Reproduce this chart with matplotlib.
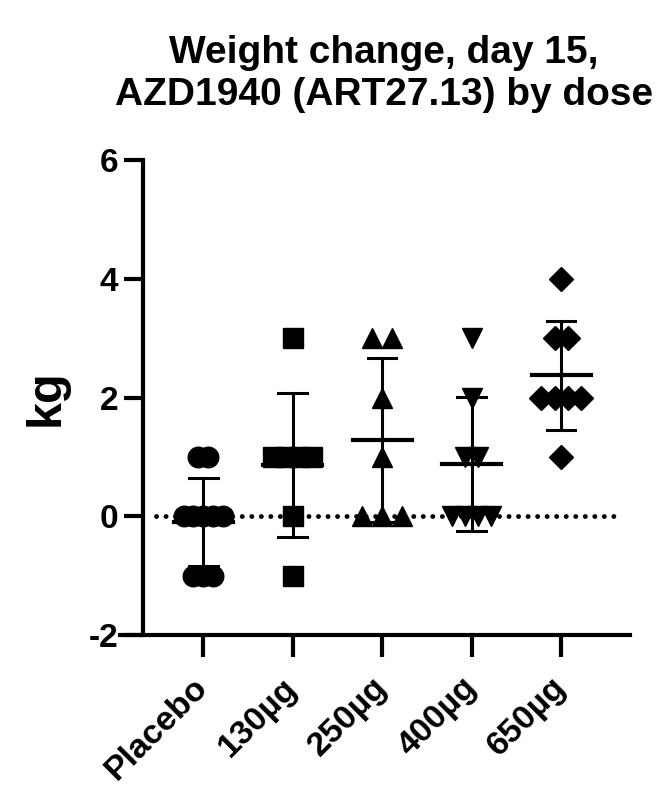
import matplotlib.pyplot as plt
import numpy as np
from collections import Counter

# values (kg, day 15)
groups = ["Placebo", "130µg", "250µg", "400µg", "650µg"]
placebo = [1, 1, 0, 0, 0, 0, 0, -1, -1, -1]
dose_130 = [3, 1, 1, 1, 1, 0, -1]
dose_250 = [3, 3, 2, 1, 0, 0, 0]
dose_400 = [3, 2, 1, 1, 0, 0, 0, 0]
dose_650 = [4, 3, 3, 2, 2, 2, 2, 1]
markers = ["o", "s", "^", "v", "D"]
marker_sizes = [14.8, 14.5, 15, 15, 12.5]

y_ticks = [-2, 0, 2, 4, 6]
title = "Weight change, day 15,\nAZD1940 (ART27.13) by dose"

plt.rcParams["font.family"] = ["Liberation Sans", "DejaVu Sans"]
plt.rcParams["font.weight"] = "bold"


def swarm_offsets(values, step):
    # spread tied values side by side, centred on the group
    counts = Counter(values)
    seen = Counter()
    offs = []
    for v in values:
        n = counts[v]
        offs.append((seen[v] - (n - 1) / 2) * step)
        seen[v] += 1
    return np.array(offs)


fig = plt.figure(figsize=(6.7, 8.06), dpi=100)
ax = fig.add_axes([120 / 670, 171 / 806, 510 / 670, 475 / 806])

data = [placebo, dose_130, dose_250, dose_400, dose_650]
for i, vals in enumerate(data):
    vals = np.array(vals, dtype=float)
    widest = max(Counter(vals.tolist()).values())
    step = 0.44 / (widest - 1) if widest > 1 else 0
    x = i + swarm_offsets(vals.tolist(), step)

    mean = vals.mean()
    sd = vals.std(ddof=1)
    ax.plot([i, i], [mean - sd, mean + sd], color="black", lw=2.2, zorder=2)
    ax.plot([i - 0.16, i + 0.16], [mean + sd, mean + sd], color="black", lw=2.2, zorder=2)
    ax.plot([i - 0.16, i + 0.16], [mean - sd, mean - sd], color="black", lw=2.2, zorder=2)
    ax.plot([i - 0.33, i + 0.33], [mean, mean], color="black", lw=3.0, zorder=2)

    ax.plot(x, vals, linestyle="none", marker=markers[i], ms=marker_sizes[i],
            color="black", mec="black", zorder=3)

# dotted zero line
ax.axhline(0, xmin=0.07, xmax=0.985, color="black", lw=3.5,
           linestyle=(0, (0.01, 1.95)), dash_capstyle="round", zorder=1)

ax.set_xlim(-0.93, 4.77)
ax.set_ylim(-2, 6)
ax.spines["top"].set_visible(False)
ax.spines["right"].set_visible(False)
ax.spines["left"].set_position(("data", -0.67))
for s in ["left", "bottom"]:
    ax.spines[s].set_linewidth(3)

ax.set_yticks(y_ticks)
ax.set_yticklabels([str(t) for t in y_ticks], fontsize=24, fontweight="bold")
ax.set_xticks(range(len(groups)))
ax.set_xticklabels(groups, fontsize=24.5, fontweight="bold", rotation=45,
                   ha="right", va="center", rotation_mode="anchor")
ax.tick_params(axis="y", length=14, width=3, pad=4)
ax.tick_params(axis="x", length=15.5, width=3, pad=19)

ax.set_ylabel("kg", fontsize=35, fontweight="bold", labelpad=14)

fig.text(384 / 670, 1 - 35 / 806, title, ha="center", va="top",
         fontsize=28, fontweight="bold", linespacing=1.2)

fig.savefig("out.png", dpi=100)
